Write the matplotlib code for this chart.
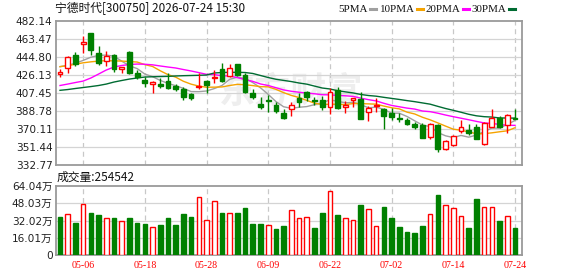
import matplotlib
matplotlib.use("Agg")
import matplotlib.pyplot as plt
from matplotlib.lines import Line2D
import numpy as np

plt.rcParams["font.family"] = ["DejaVu Sans", "Noto Sans CJK SC"]

# ---- data: 60 trading sessions, oldest first ----
opens = [427.0, 433.2, 447.4, 458.9, 469.6, 449.5, 441.2, 447.1, 432.2, 450.2,
         428.0, 421.1, 417.3, 417.3, 420.0, 414.8, 411.7, 406.9, 413.9, 420.0,
         422.8, 432.5, 425.2, 437.7, 426.3, 407.9, 396.1, 400.1, 395.1, 387.1,
         390.6, 402.7, 408.6, 400.3, 400.3, 393.4, 410.7, 392.7, 400.3, 401.3,
         387.5, 393.7, 390.6, 387.1, 381.9, 379.8, 375.3, 373.9, 361.4, 373.9,
         349.0, 353.1, 368.0, 369.1, 372.2, 354.2, 372.5, 381.9, 374.6, 381.9]
highs = [432.5, 446.1, 449.9, 466.8, 470.0, 456.5, 451.2, 447.8, 435.0, 450.9,
         431.5, 423.9, 420.0, 422.8, 428.0, 416.9, 414.2, 407.2, 428.0, 421.1,
         431.5, 439.1, 437.4, 438.1, 428.0, 412.1, 403.1, 405.5, 398.5, 390.6,
         398.5, 407.2, 409.6, 403.7, 404.4, 413.1, 413.5, 399.2, 402.3, 409.0,
         394.0, 402.0, 392.3, 391.6, 386.4, 381.2, 377.8, 376.0, 376.0, 375.3,
         358.7, 363.5, 379.1, 375.3, 375.0, 377.4, 390.6, 384.0, 385.4, 390.9]
lows = [423.9, 428.7, 436.0, 449.5, 447.4, 436.7, 436.0, 429.8, 428.0, 427.7,
        421.8, 414.2, 407.2, 412.8, 411.7, 410.0, 400.3, 400.3, 411.7, 407.9,
        417.6, 418.7, 423.9, 425.2, 407.9, 401.7, 390.6, 388.1, 386.4, 380.2,
        383.6, 392.7, 399.6, 395.1, 389.9, 385.7, 391.3, 387.1, 392.7, 380.5,
        378.8, 388.1, 370.1, 379.5, 377.8, 374.3, 370.1, 361.1, 359.7, 345.9,
        347.9, 352.8, 365.6, 363.9, 359.7, 353.8, 372.2, 370.8, 366.3, 380.2]
closes = [429.1, 444.7, 437.4, 460.6, 452.3, 438.4, 446.1, 432.2, 434.6, 428.0,
          423.9, 417.6, 418.7, 415.2, 412.4, 412.1, 403.7, 402.0, 414.6, 415.9,
          424.6, 420.0, 433.9, 426.3, 408.9, 403.1, 392.7, 399.8, 389.2, 381.9,
          394.7, 398.2, 403.7, 398.9, 392.7, 408.6, 391.6, 395.1, 402.0, 380.5,
          391.6, 395.1, 383.6, 382.3, 380.2, 375.0, 372.5, 361.1, 375.0, 349.0,
          358.0, 363.2, 372.5, 365.6, 360.1, 376.0, 381.2, 372.5, 385.0, 380.5]
# volume in 万 (10k) lots
volumes = [35.1, 37.9, 29.9, 47.1, 39.1, 37.3, 34.2, 34.2, 31.4, 34.2,
           29.9, 28.9, 25.9, 28.0, 34.2, 28.0, 38.2, 35.1, 53.6, 32.6,
           49.9, 39.1, 38.8, 39.1, 43.4, 28.9, 28.9, 27.7, 24.3, 27.1,
           41.8, 34.2, 35.1, 25.2, 39.2, 59.4, 37.3, 34.2, 32.3, 46.6,
           42.6, 26.7, 44.8, 34.5, 26.1, 21.5, 20.5, 27.1, 37.9, 56.0,
           46.3, 43.5, 36.1, 25.2, 52.2, 44.5, 44.5, 31.7, 36.1, 25.45]

# moving averages as drawn on the chart
ma5 = [435.0, 436.5, 438.5, 441.5, 444.8, 446.7, 447.0, 445.9, 440.7, 435.9,
       433.0, 427.3, 424.6, 420.7, 417.6, 415.2, 412.4, 409.1, 409.0, 409.7,
       412.2, 415.4, 421.8, 424.1, 422.7, 418.4, 413.0, 406.2, 398.7, 393.3,
       391.7, 392.8, 393.5, 395.5, 397.6, 400.4, 399.1, 397.4, 398.0, 395.6,
       392.2, 392.9, 390.6, 386.6, 386.6, 383.2, 378.7, 374.2, 372.8, 366.5,
       363.1, 361.3, 363.5, 361.7, 363.9, 367.5, 371.1, 371.1, 375.0, 379.0]
ma10 = [435.0, 436.0, 437.5, 439.0, 440.0, 440.8, 441.2, 441.0, 440.8, 440.3,
        439.8, 437.1, 435.2, 430.7, 426.7, 424.1, 419.8, 416.8, 414.8, 413.6,
        413.7, 413.9, 415.4, 416.6, 416.2, 415.3, 414.2, 414.0, 411.4, 408.0,
        405.1, 402.9, 399.9, 397.1, 395.5, 396.0, 395.9, 395.5, 396.7, 396.6,
        396.3, 396.0, 394.0, 392.3, 391.1, 387.7, 385.8, 382.4, 379.7, 376.5,
        373.2, 370.0, 368.9, 367.2, 365.2, 365.3, 366.2, 367.3, 368.3, 371.5]
ma20 = [415.4, 416.9, 418.5, 420.0, 423.2, 427.3, 431.5, 434.6, 436.2, 437.2,
        437.7, 437.5, 436.9, 435.7, 434.6, 433.6, 432.0, 430.5, 428.8, 427.0,
        426.8, 425.5, 425.3, 423.6, 421.5, 419.7, 417.0, 415.4, 413.1, 410.8,
        409.4, 408.4, 407.6, 406.8, 405.8, 405.7, 405.1, 404.7, 404.1, 402.3,
        400.7, 399.4, 396.9, 394.7, 393.3, 391.9, 390.9, 388.9, 388.2, 386.6,
        384.7, 383.0, 381.4, 379.8, 378.1, 376.5, 376.0, 374.9, 374.0, 374.0]
ma30 = [410.4, 411.2, 412.3, 413.3, 414.3, 415.4, 416.9, 419.0, 420.6, 422.1,
        423.2, 424.2, 424.5, 424.7, 424.9, 425.3, 425.6, 425.8, 426.0, 426.3,
        428.4, 428.9, 429.1, 429.1, 428.9, 427.9, 425.8, 423.7, 421.9, 420.7,
        419.5, 418.0, 416.8, 414.8, 412.8, 411.8, 410.0, 408.8, 407.7, 406.1,
        405.0, 404.3, 403.1, 402.0, 400.9, 399.7, 398.6, 397.3, 396.0, 393.7,
        391.5, 389.6, 387.6, 385.5, 383.9, 383.0, 382.6, 381.7, 381.6, 381.5]

date_ticks = [3, 11, 19, 27, 35, 43, 51, 59]
date_labels = ["05-06", "05-18", "05-28", "06-09", "06-22", "07-02", "07-14", "07-24"]
price_ticks = [332.77, 351.44, 370.11, 388.78, 407.45, 426.13, 444.80, 463.47, 482.14]
vol_ticks = [0, 16.01, 32.02, 48.03, 64.04]
title = "宁德时代[300750] 2026-07-24 15:30"
last_volume = 254542

UP, DOWN = "#ff0000", "#008000"
GRID, FRAME = "#d4d4d4", "#9a9a9a"
ma_styles = [("5PMA", ma5, "#a0a0a0"), ("10PMA", ma10, "#f5a300"),
             ("20PMA", ma20, "#ff00ff"), ("30PMA", ma30, "#006b32")]

W, H = 578, 276
fig = plt.figure(figsize=(W / 100, H / 100), dpi=100)


def box(left, top, right, bottom):
    return [left / W, 1 - bottom / H, (right - left) / W, (bottom - top) / H]


ax = fig.add_axes(box(56, 21.3, 522, 165))
axv = fig.add_axes(box(56, 186, 522, 255.3), sharex=ax)

x = np.arange(len(closes))
o, h, l, c = (np.asarray(a) for a in (opens, highs, lows, closes))
up = c >= o
edge = np.where(up, UP, DOWN)

for a in (ax, axv):
    for s in a.spines.values():
        s.set_color(FRAME)
        s.set_linewidth(1.3)
    for t in date_ticks:
        a.axvline(t, color="#c8c8c8", lw=0.9, ls=(0, (4, 3)), zorder=1)
    a.tick_params(length=0, colors="#222222")

# price panel
for p in price_ticks[1:-1]:
    ax.axhline(p, color=GRID, lw=0.9, zorder=1)
ax.text(0.505, 0.51, "东方财富", transform=ax.transAxes, fontsize=26, color="#eeeeee",
        fontweight="bold", style="italic", ha="center", va="center", zorder=0,
        family="Noto Sans CJK SC")
for name, vals, col in ma_styles:
    ax.plot(x, vals, color=col, lw=1.0, zorder=2)
ax.vlines(x, l, h, colors=edge, lw=1.0, zorder=3)
ax.bar(x, np.maximum(np.abs(c - o), 0.5), bottom=np.minimum(o, c), width=0.62,
       color=np.where(up, "white", DOWN), edgecolor=edge, lw=1.0, zorder=4)
ax.set_xlim(-0.52, len(x) - 0.09)
ax.set_ylim(price_ticks[0], price_ticks[-1])
ax.set_yticks(price_ticks, [f"{p:.2f}" for p in price_ticks], fontsize=7.6)
ax.tick_params(axis="y", pad=2.5)
ax.tick_params(axis="x", labelbottom=False)

# volume panel; colour follows close against the previous close
vol_up = np.r_[False, np.diff(c) > 0]
for v in vol_ticks[1:-1]:
    axv.axhline(v, color=GRID, lw=0.9, zorder=1)
axv.bar(x, volumes, width=0.6, color=np.where(vol_up, "white", DOWN),
        edgecolor=np.where(vol_up, UP, DOWN), lw=1.0, zorder=3)
axv.set_ylim(0, vol_ticks[-1])
axv.set_yticks(vol_ticks, ["0"] + [f"{v:.2f}万" for v in vol_ticks[1:]], fontsize=7.6)
axv.tick_params(axis="y", pad=2.5)
axv.set_xticks(date_ticks, date_labels, fontsize=7.2, family="Liberation Serif")
axv.tick_params(axis="x", pad=4, labelcolor=UP)

# header texts
fig.text(55 / W, 1 - 8.7 / H, title, fontsize=8.5, va="center", color="#111111",
         family=["Noto Sans CJK SC"])
fig.text(57 / W, 1 - 177.5 / H, f"成交量:{last_volume}", fontsize=8.5, va="center",
         color="#111111", family=["Noto Sans CJK SC"])

# legend: label followed by a short colour swatch
legend_x = [338, 379.5, 425.5, 471.5]
r = fig.canvas.get_renderer()
for lx, (name, vals, col) in zip(legend_x, ma_styles):
    t = fig.text(lx / W, 1 - 9 / H, name, fontsize=7.9, va="center",
                 family="Liberation Serif", color="#111111")
    x0 = t.get_window_extent(r).x1 + 2.5
    fig.add_artist(Line2D([x0 / W, (x0 + 6) / W], [1 - 9 / H, 1 - 9 / H],
                          color=col, lw=2.2, transform=fig.transFigure))

fig.savefig("out.png", dpi=100)
